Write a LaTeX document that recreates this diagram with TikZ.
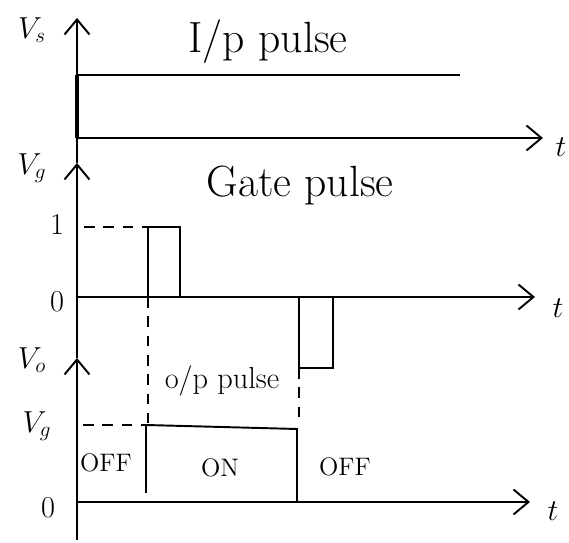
\documentclass[tikz,border=0pt]{standalone}
\usetikzlibrary{arrows.meta}
\begin{document}
\begin{tikzpicture}[x=0.02cm,y=-0.02cm,every node/.style={font=\LARGE},
  axis/.style={line width=1.1pt,-{Straight Barb[length=3mm,width=5mm]}},
  wave/.style={line width=1.1pt},
  guide/.style={line width=0.8pt,dash pattern=on 6pt off 5pt},
  title/.style={font=\Huge},
  state/.style={font=\Large}]
\useasboundingbox (0,0) rectangle (569,543);
% vertical axis with three arrow heads
\coordinate (bot) at (77,540);
\coordinate (top3) at (77,358);
\coordinate (top2) at (77,163);
\coordinate (top1) at (77,18);
\draw[axis] (bot) -- (top3);
\draw[axis] (top3) -- (top2);
\draw[axis] (top2) -- (top1);
% time axes
\coordinate (o1) at (77,138); \coordinate (e1) at (543,138);
\coordinate (o2) at (77,297); \coordinate (e2) at (535,297);
\coordinate (o3) at (77,502); \coordinate (e3) at (530,502);
\draw[axis] (o1) -- (e1);
\draw[axis] (o2) -- (e2);
\draw[axis] (o3) -- (e3);
\node (t1) at (561,147) {$t$};
\node (t2) at (558,308) {$t$};
\node (t3) at (553,511) {$t$};
% axis labels
\node (vs) at (32,30) {$V_s$};
\node (vg) at (32,168) {$V_g$};
\node (vo) at (32,360) {$V_o$};
\node (one) at (57,224) {1};
\node (zero) at (57,302) {0};
\node (vgo) at (37,426) {$V_g$};
\node (zero3) at (48,508) {0};
% input pulse
\coordinate (ip0) at (77,75); \coordinate (ip1) at (460,75);
\draw[line width=2.2pt] (o1) -- (ip0);
\draw[wave] (ip0) -- (ip1);
\node[title] (iplab) at (268,42) {I/p pulse};
% gate pulse
\coordinate (g1) at (148,297); \coordinate (g2) at (148,227);
\coordinate (g3) at (180,227); \coordinate (g4) at (180,297);
\draw[wave] (g1) -- (g2) -- (g3) -- (g4);
\coordinate (n1) at (299,297); \coordinate (n2) at (299,368);
\coordinate (n3) at (333,368); \coordinate (n4) at (333,297);
\draw[wave] (n1) -- (n2) -- (n3) -- (n4);
\draw[guide] (84,227) -- (g2);
\node[title] (gatelab) at (300,185) {Gate pulse};
% output pulse
\coordinate (p1) at (146,493); \coordinate (p2) at (146,425);
\coordinate (p3) at (297,429); \coordinate (p4) at (297,502);
\draw[wave] (p1) -- (p2) -- (p3) -- (p4);
\draw[guide] (g1) -- (148,425);
\draw[guide] (n2) -- (299,425);
\draw[guide] (83,425) -- (p2);
\node (oplab) at (222,381) {o/p pulse};
\node[state] (off1) at (106,463) {OFF};
\node[state] (on) at (220,468) {ON};
\node[state] (off2) at (345,467) {OFF};
\end{tikzpicture}
\end{document}
